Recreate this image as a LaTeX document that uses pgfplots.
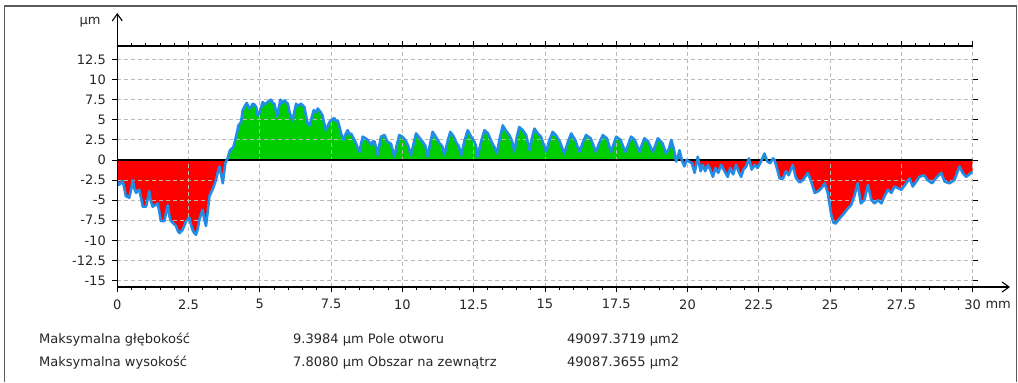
\documentclass[border=0pt]{standalone}
\usepackage{fontspec}
\setmainfont{DejaVu Sans}
\usepackage{pgfplots}
\pgfplotsset{compat=1.18}
\usepackage{pgfplotstable}
\usetikzlibrary{arrows.meta}
\definecolor{prgreen}{RGB}{0,205,0}
\definecolor{prred}{RGB}{255,0,0}
\definecolor{prblue}{RGB}{35,140,230}
\definecolor{gridgray}{RGB}{185,185,185}
\definecolor{framegray}{RGB}{90,90,90}

\pgfplotstableread{
x y
0.00 -2.7
0.05 -3.1
0.12 -2.9
0.19 -2.6
0.25 -3.6
0.30 -4.5
0.42 -4.7
0.50 -3.4
0.54 -2.5
0.60 -3.6
0.66 -4.1
0.72 -3.8
0.77 -3.7
0.85 -5.0
0.89 -5.8
1.01 -5.8
1.08 -4.6
1.12 -3.9
1.18 -5.2
1.24 -5.8
1.35 -5.6
1.42 -5.4
1.48 -6.6
1.53 -7.6
1.65 -7.6
1.72 -6.4
1.77 -5.6
1.83 -7.0
1.88 -7.6
1.97 -7.9
2.06 -8.2
2.12 -8.8
2.18 -9.1
2.29 -8.7
2.36 -8.1
2.41 -7.6
2.53 -7.2
2.58 -8.0
2.64 -8.7
2.70 -9.1
2.76 -9.3
2.82 -8.6
2.88 -7.4
2.99 -6.2
3.05 -7.4
3.11 -8.2
3.17 -6.5
3.23 -4.5
3.34 -3.7
3.46 -2.5
3.52 -1.6
3.58 -0.8
3.64 -1.8
3.70 -2.9
3.75 -1.5
3.79 -0.4
3.87 0.2
3.95 1.2
4.07 1.6
4.13 2.4
4.19 3.3
4.25 4.3
4.34 4.7
4.40 6.2
4.46 6.6
4.54 7.1
4.63 6.4
4.69 6.6
4.75 7.0
4.81 6.9
4.87 6.6
4.92 5.5
4.98 5.8
5.04 6.5
5.10 7.2
5.18 6.9
5.27 7.2
5.39 7.5
5.45 7.1
5.51 7.0
5.56 6.2
5.60 5.4
5.66 6.4
5.72 7.5
5.80 7.1
5.86 7.4
5.98 7.0
6.04 6.0
6.09 5.4
6.15 4.9
6.21 6.0
6.27 7.0
6.35 6.7
6.44 7.0
6.56 6.6
6.62 5.5
6.68 4.5
6.75 4.3
6.82 5.3
6.89 6.2
6.96 5.9
7.03 6.4
7.12 6.0
7.20 5.5
7.26 4.5
7.32 3.7
7.38 4.2
7.44 4.7
7.52 5.0
7.61 5.2
7.67 4.8
7.73 4.9
7.79 4.2
7.85 3.3
7.94 2.5
8.01 3.2
8.08 3.7
8.14 3.2
8.20 3.3
8.30 2.6
8.37 2.1
8.43 1.5
8.49 1.0
8.55 2.0
8.61 2.9
8.70 2.7
8.78 2.5
8.90 1.9
8.96 2.3
9.02 2.3
9.08 1.5
9.13 0.6
9.19 1.8
9.25 2.9
9.37 3.1
9.47 2.3
9.60 2.0
9.72 0.4
9.80 1.8
9.89 3.1
9.99 2.9
10.10 2.5
10.20 1.8
10.30 0.6
10.39 2.0
10.48 3.3
10.57 2.9
10.70 2.3
10.80 1.8
10.89 0.4
10.97 2.0
11.06 3.5
11.17 2.9
11.30 2.1
11.40 1.7
11.47 0.6
11.57 2.1
11.68 3.5
11.80 2.9
11.90 2.1
11.98 1.7
12.06 0.6
12.17 2.3
12.29 3.7
12.41 2.9
12.52 2.3
12.58 1.8
12.64 0.4
12.76 2.3
12.88 3.7
13.00 3.3
13.15 2.1
13.24 1.5
13.31 0.8
13.42 2.8
13.52 4.3
13.62 3.7
13.75 3.1
13.85 2.3
13.93 1.0
14.01 2.8
14.10 4.1
14.22 3.7
14.34 3.1
14.46 1.2
14.55 2.8
14.63 3.9
14.75 3.3
14.86 2.9
15.04 1.0
15.15 2.4
15.27 3.5
15.38 3.1
15.52 2.3
15.68 0.8
15.80 2.2
15.92 3.3
16.06 2.5
16.21 1.0
16.32 2.1
16.44 3.1
16.60 2.7
16.79 1.0
16.90 2.1
17.03 3.1
17.17 2.7
17.32 1.0
17.42 2.1
17.50 2.9
17.65 2.5
17.82 1.0
17.93 2.0
18.02 2.9
18.15 2.5
18.32 1.0
18.40 1.9
18.49 2.7
18.62 2.3
18.78 1.0
18.87 1.8
18.96 2.7
19.12 2.1
19.25 0.8
19.35 1.4
19.43 2.5
19.52 1.4
19.60 -0.2
19.66 0.4
19.72 1.2
19.80 0.0
19.89 -0.8
19.97 0.0
20.05 -0.2
20.15 -0.4
20.25 -1.6
20.36 0.4
20.46 -1.4
20.53 -0.6
20.62 -1.4
20.72 -0.6
20.80 -1.2
20.89 -2.1
20.98 -1.0
21.08 -1.6
21.18 -0.6
21.30 -1.4
21.41 -2.1
21.50 -1.0
21.60 -1.8
21.70 -0.6
21.80 -1.5
21.88 -2.1
21.96 -1.2
22.06 -0.8
22.15 0.2
22.25 -1.2
22.36 -0.6
22.46 -1.0
22.56 -0.3
22.70 0.8
22.80 -0.2
22.90 -0.4
23.00 0.2
23.05 0.0
23.15 -1.2
23.23 -2.3
23.35 -2.3
23.45 -1.4
23.55 -1.9
23.69 -0.6
23.80 -2.2
23.93 -2.8
24.05 -2.5
24.22 -1.6
24.33 -2.6
24.46 -4.1
24.58 -3.9
24.70 -3.5
24.81 -2.9
24.92 -4.1
25.04 -6.8
25.12 -7.8
25.20 -7.9
25.28 -7.5
25.40 -7.0
25.50 -6.6
25.63 -6.0
25.74 -5.6
25.85 -4.5
25.97 -2.9
26.08 -5.4
26.20 -5.0
26.33 -3.1
26.45 -5.0
26.56 -5.4
26.68 -5.0
26.80 -5.4
26.91 -4.5
27.03 -3.7
27.15 -4.1
27.26 -3.3
27.38 -3.5
27.50 -3.7
27.67 -2.9
27.79 -2.3
27.90 -3.3
28.02 -2.7
28.13 -2.1
28.30 -1.9
28.42 -2.5
28.58 -2.9
28.70 -2.3
28.90 -1.6
29.02 -2.7
29.19 -2.9
29.36 -2.5
29.54 -0.8
29.65 -1.6
29.77 -2.1
29.95 -1.6
30.00 -1.5
}\profile

\begin{document}
\begin{tikzpicture}[x=1bp,y=1bp]
\path (0,0) rectangle (1018,382);
\draw[framegray, line width=1.3bp] (4.5,0) -- (4.5,376) -- (1016.5,376) -- (1016.5,0);
\begin{axis}[
  at={(117.3bp,95bp)}, anchor=south west,
  x=28.51bp, y=8.04bp,
  xmin=0, xmax=30, ymin=-15.8, ymax=14.17,
  enlargelimits=false,
  set layers,
  axis line style={draw=none},
  xtick={0,2.5,5,7.5,10,12.5,15,17.5,20,22.5,25,27.5,30},
  ytick={-15,-12.5,-10,-7.5,-5,-2.5,0,2.5,5,7.5,10,12.5},
  xticklabels={0,2.5,5,7.5,10,12.5,15,17.5,20,22.5,25,27.5,30},
  yticklabels={-15,-12.5,-10,-7.5,-5,-2.5,0,2.5,5,7.5,10,12.5},
  minor x tick num=4,
  tick align=outside,
  xtick pos=both, ytick pos=both,
  xticklabel pos=left, yticklabel pos=left,
  major tick length=5bp, minor tick length=3bp,
  tick style={black, line width=0.9bp},
  grid=major,
  major grid style={gridgray, line width=0.9bp, dash pattern=on 4bp off 3bp},
  ticklabel style={font=\fontsize{13bp}{15bp}\selectfont, text=black!85},
  xticklabel style={yshift=-4bp},
  yticklabel style={xshift=-3bp},
]
\addplot[on layer=axis background, draw=none, fill=prgreen] table[x=x, y expr={max(\thisrow{y},0)}] {\profile} \closedcycle;
\addplot[on layer=axis background, draw=none, fill=prred] table[x=x, y expr={min(\thisrow{y},0)}] {\profile} \closedcycle;
\addplot[black, line width=1.2bp] coordinates {(0,0) (30,0)};
\addplot[prblue, line width=2.6bp, line join=round] table[x=x, y=y] {\profile};
\end{axis}
\draw[black, line width=1.1bp, -{Straight Barb[length=7bp,width=10bp]}] (117.3,95) -- (1010,95);
\draw[black, line width=1.1bp, -{Straight Barb[length=7bp,width=10bp]}] (117.3,95) -- (117.3,369);
\draw[black, line width=1.1bp] (117.3,336) -- (972.7,336);
\begin{scope}[every node/.style={font=\fontsize{13bp}{15bp}\selectfont, text=black!85}]
\node[anchor=east] at (104,360) {µm};
\node[anchor=west] at (982,77) {mm};
\node[anchor=base west, inner sep=0] at (39,39) {Maksymalna głębokość};
\node[anchor=base west, inner sep=0] at (293,39) {9.3984 µm Pole otworu};
\node[anchor=base west, inner sep=0] at (567,39) {49097.3719 µm2};
\node[anchor=base west, inner sep=0] at (39,16) {Maksymalna wysokość};
\node[anchor=base west, inner sep=0] at (293,16) {7.8080 µm Obszar na zewnątrz};
\node[anchor=base west, inner sep=0] at (567,16) {49087.3655 µm2};
\end{scope}
\end{tikzpicture}
\end{document}
